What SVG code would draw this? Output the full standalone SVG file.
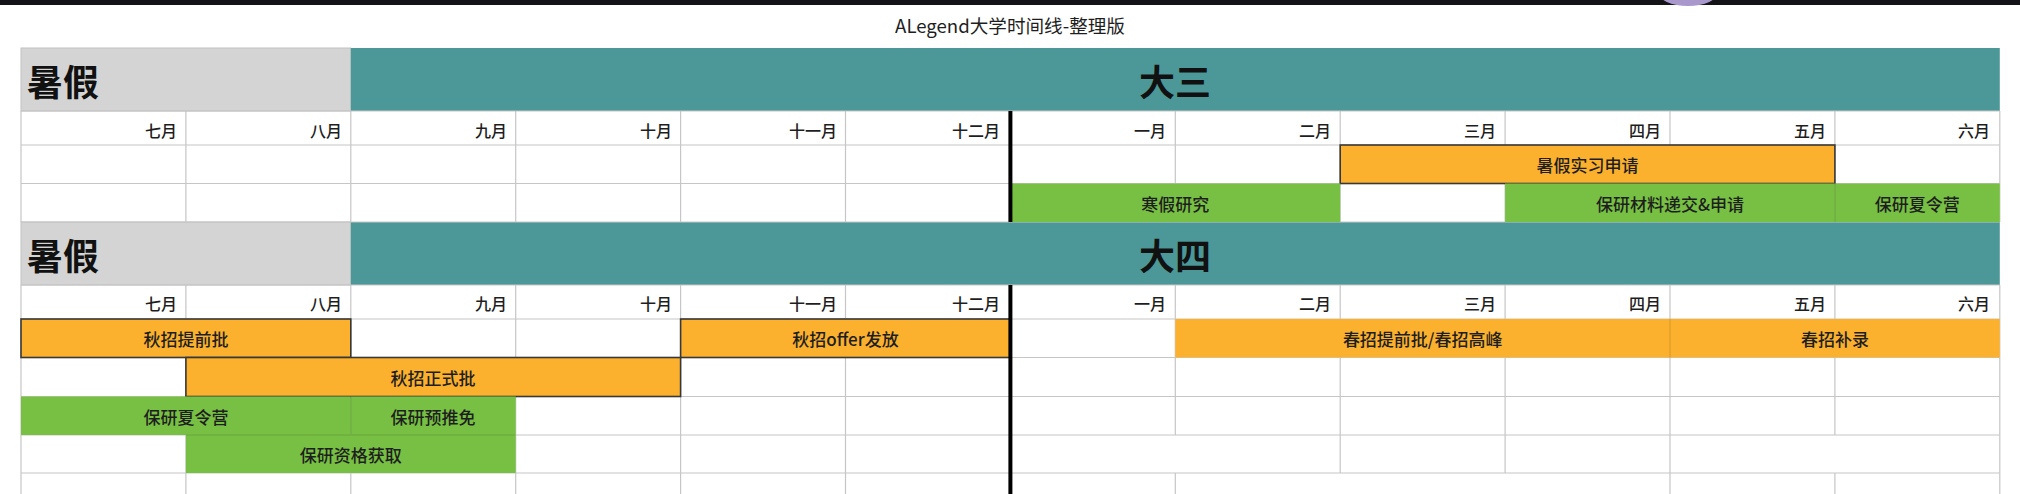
<svg xmlns="http://www.w3.org/2000/svg" width="2020" height="494" viewBox="0 0 2020 494">
<style>
text{font-family:"Noto Sans CJK SC","Noto Sans",sans-serif;fill:#1e1e1e;dominant-baseline:central}
.title{font-size:18.6px;text-anchor:middle}
.hd{font-size:36px;font-weight:bold;fill:#111}
.hdc{font-size:36px;font-weight:bold;fill:#111;text-anchor:middle}
.mo{font-size:16px;font-weight:500;text-anchor:end}
.ev{font-size:17px;font-weight:500;text-anchor:middle}
.grid{stroke:#c6c6c6;stroke-width:1.2;fill:none}
.sep{stroke:#000;stroke-opacity:0.12;stroke-width:1.2;fill:none}
.or{fill:#fbb12e}
.orb{fill:#fbb12e;stroke:#383838;stroke-width:1.6}
.gr{fill:#77c043}
.teal{fill:#4c9898}
.gray{fill:#d4d4d4;stroke:#c2c2c2;stroke-width:1}
</style>
<rect x="0" y="0" width="2020" height="494" fill="#ffffff"/>
<rect x="0" y="0" width="2020" height="5" fill="#141418"/>
<ellipse cx="1688" cy="-8" rx="30" ry="14" fill="#a898cc"/>
<text class="title" x="1010" y="24">ALegend大学时间线-整理版</text>

<g id="header-junior">
<rect class="gray" x="21" y="48" width="329.8" height="63"/>
<rect class="teal" x="350.8" y="48" width="1649" height="63"/>
<text class="hd" x="27" y="80">暑假</text>
<text class="hdc" x="1175" y="80">大三</text>
</g>
<g id="header-senior">
<rect class="gray" x="21" y="222" width="329.8" height="63"/>
<rect class="teal" x="350.8" y="222" width="1649" height="63"/>
<text class="hd" x="27" y="254">暑假</text>
<text class="hdc" x="1175" y="254">大四</text>
</g>

<g id="grid">
<path class="grid" d="M21,111H1999.8 M21,145H1999.8 M21,183.5H1999.8 M21,222H1999.8 M21,285H1999.8 M21,319H1999.8 M21,357.5H1999.8 M21,396.5H1999.8 M21,435H1999.8 M21,473H1999.8"/>
<path class="grid" d="M21,111V222 M21,285V494 M185.9,111V222 M185.9,285V494 M350.8,111V222 M350.8,285V494 M515.7,111V222 M515.7,285V494 M680.6,111V222 M680.6,285V494 M845.5,111V222 M845.5,285V494 M1175.3,111V222 M1175.3,285V435 M1175.3,473V494 M1340.2,111V222 M1340.2,285V473 M1505.1,111V222 M1505.1,285V473 M1670,111V222 M1670,285V494 M1834.9,111V222 M1834.9,285V435 M1834.9,473V494 M1999.8,111V222 M1999.8,285V494"/>
</g>

<g id="months-junior">
<text class="mo" x="177" y="130">七月</text>
<text class="mo" x="342" y="130">八月</text>
<text class="mo" x="507" y="130">九月</text>
<text class="mo" x="672" y="130">十月</text>
<text class="mo" x="837" y="130">十一月</text>
<text class="mo" x="1000" y="130">十二月</text>
<text class="mo" x="1166" y="130">一月</text>
<text class="mo" x="1331" y="130">二月</text>
<text class="mo" x="1496" y="130">三月</text>
<text class="mo" x="1661" y="130">四月</text>
<text class="mo" x="1826" y="130">五月</text>
<text class="mo" x="1990" y="130">六月</text>
</g>
<g id="months-senior">
<text class="mo" x="177" y="303">七月</text>
<text class="mo" x="342" y="303">八月</text>
<text class="mo" x="507" y="303">九月</text>
<text class="mo" x="672" y="303">十月</text>
<text class="mo" x="837" y="303">十一月</text>
<text class="mo" x="1000" y="303">十二月</text>
<text class="mo" x="1166" y="303">一月</text>
<text class="mo" x="1331" y="303">二月</text>
<text class="mo" x="1496" y="303">三月</text>
<text class="mo" x="1661" y="303">四月</text>
<text class="mo" x="1826" y="303">五月</text>
<text class="mo" x="1990" y="303">六月</text>
</g>

<g id="ev-summer-intern">
<rect class="orb" x="1340.2" y="145" width="494.7" height="38.5"/>
<text class="ev" x="1587.5" y="164.5">暑假实习申请</text>
</g>
<g id="ev-winter-research">
<rect class="gr" x="1010.4" y="183.5" width="329.8" height="38.5"/>
<text class="ev" x="1175.3" y="203">寒假研究</text>
</g>
<g id="ev-baoyan-material">
<rect class="gr" x="1505.1" y="183.5" width="329.8" height="38.5"/>
<text class="ev" x="1670" y="203">保研材料递交&amp;申请</text>
</g>
<g id="ev-baoyan-camp-junior">
<rect class="gr" x="1834.9" y="183.5" width="164.9" height="38.5"/>
<text class="ev" x="1917.3" y="203">保研夏令营</text>
</g>

<g id="ev-autumn-early">
<rect class="orb" x="21" y="319" width="329.8" height="38.5"/>
<text class="ev" x="186" y="338.5">秋招提前批</text>
</g>
<g id="ev-autumn-offer">
<rect class="orb" x="680.6" y="319" width="329.8" height="38.5"/>
<text class="ev" x="845.5" y="338.5">秋招offer发放</text>
</g>
<g id="ev-spring-peak">
<rect class="or" x="1175.3" y="319" width="494.7" height="38.5"/>
<text class="ev" x="1422.7" y="338.5">春招提前批/春招高峰</text>
</g>
<g id="ev-spring-supp">
<rect class="or" x="1670" y="319" width="329.8" height="38.5"/>
<text class="ev" x="1835" y="338.5">春招补录</text>
</g>
<g id="ev-autumn-formal">
<rect class="orb" x="185.9" y="357.5" width="494.7" height="39"/>
<text class="ev" x="433" y="377">秋招正式批</text>
</g>
<g id="ev-baoyan-camp-senior">
<rect class="gr" x="21" y="396.5" width="329.8" height="38.5"/>
<text class="ev" x="186" y="416">保研夏令营</text>
</g>
<g id="ev-baoyan-pre">
<rect class="gr" x="350.8" y="396.5" width="164.9" height="38.5"/>
<text class="ev" x="433" y="416">保研预推免</text>
</g>
<g id="ev-baoyan-qual">
<rect class="gr" x="185.9" y="435" width="329.8" height="38"/>
<text class="ev" x="350.8" y="454">保研资格获取</text>
</g>

<g id="separators">
<path class="sep" d="M1834.9,183.5V222 M1670,319V357.5 M350.8,396.5V435 M185.9,435H515.7"/>
<path stroke="#000" stroke-width="4" fill="none" d="M1010.4,111V222 M1010.4,285V494"/>
</g>
</svg>
